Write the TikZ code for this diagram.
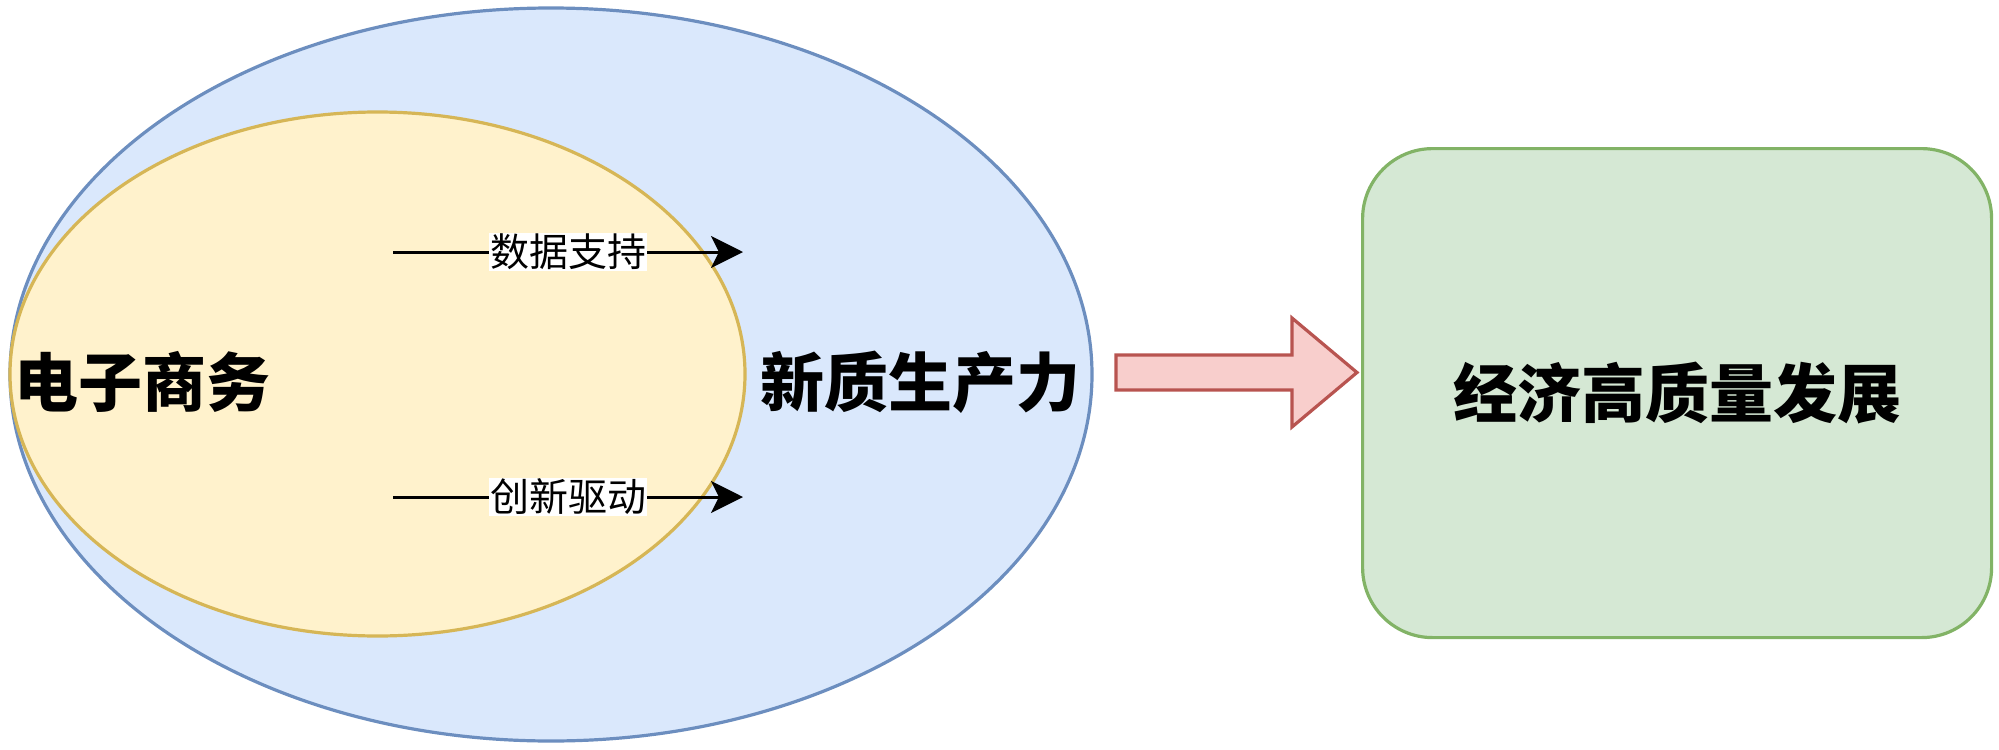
\documentclass[tikz,border=0pt]{standalone}
\usepackage{fontspec}
\newfontfamily\cjk{Noto Sans CJK SC}
\newfontfamily\cjkb{Noto Sans CJK SC Black}
\usetikzlibrary{arrows.meta,shapes.geometric,shapes.arrows}
\definecolor{bluefill}{HTML}{DAE8FC}
\definecolor{bluedraw}{HTML}{6C8EBF}
\definecolor{yelfill}{HTML}{FFF2CC}
\definecolor{yeldraw}{HTML}{D6B656}
\definecolor{grnfill}{HTML}{D5E8D4}
\definecolor{grndraw}{HTML}{82B366}
\definecolor{redfill}{HTML}{F8CECC}
\definecolor{reddraw}{HTML}{B85450}
\tikzset{
  bigtext/.style={font=\cjkb\fontsize{32pt}{36pt}\selectfont, inner sep=0pt},
  smalltext/.style={font=\cjk\fontsize{19.5pt}{22pt}\selectfont, fill=white, inner sep=0.5pt},
  flowarrow/.style={line width=1.5pt, -{Stealth[length=16pt,width=16pt,inset=4pt]}},
}
\begin{document}
\begin{tikzpicture}[x=0.5pt,y=-0.5pt]
\useasboundingbox (0,0) rectangle (1999,750);
% outer ellipse
\node[ellipse, draw=bluedraw, fill=bluefill, line width=1.6pt, minimum width=541pt, minimum height=366.5pt, inner sep=0pt] (outer) at (551,374.5) {};
% inner ellipse
\node[ellipse, draw=yeldraw, fill=yelfill, line width=1.6pt, minimum width=367.5pt, minimum height=262pt, inner sep=0pt] (inner) at (377.5,374) {};
% labels
\node[bigtext, anchor=west] (ec) at (14,382) {电子商务};
\node[bigtext] (np) at (920,382) {新质生产力};
% arrows
\coordinate (a1s) at (393,252);
\coordinate (a1e) at (743,252);
\coordinate (a2s) at (393,497);
\coordinate (a2e) at (743,497);
\draw[flowarrow] (a1s) -- node[smalltext] {数据支持} (a1e);
\draw[flowarrow] (a2s) -- node[smalltext] {创新驱动} (a2e);
% block arrow
\draw[draw=reddraw, fill=redfill, line width=1.6pt, line join=miter]
  (1116,355) -- (1292,355) -- (1292,318) -- (1357,372.5) -- (1292,427) -- (1292,390) -- (1116,390) -- cycle;
\coordinate (bt) at (1357,372.5);
% green box
\node[draw=grndraw, fill=grnfill, line width=1.6pt, rounded corners=35pt, minimum width=314.5pt, minimum height=244.5pt, inner sep=0pt, anchor=north west] (goal) at (1361,147) {};
\node[bigtext] (goaltext) at (goal.center) {经济高质量发展};
\end{tikzpicture}
\end{document}
